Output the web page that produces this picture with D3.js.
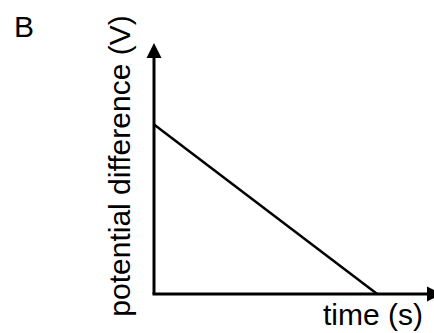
<!DOCTYPE html>
<html>
<head>
<meta charset="utf-8">
<script src="https://cdn.jsdelivr.net/npm/d3@7"></script>
<style>
  body { margin: 0; background: #fff; }
  svg { display: block; font-family: "Liberation Sans", Arial, sans-serif; }
</style>
</head>
<body>
<svg id="chart" width="434" height="333"></svg>
<script>
(function () {
    'use strict';

    // sketch graph: p.d. falls linearly to zero
    var timeValues = [0, 7.75];
    var voltageValues = [6.75, 0];
    var axisMax = [10, 10];
    var panelLabel = "B";
    var xLabel = "time (s)";
    var yLabel = "potential difference (V)";

    var svg = d3.select("#chart");
    var x = d3.scaleLinear().domain([0, axisMax[0]]).range([154, 442]);
    var y = d3.scaleLinear().domain([0, axisMax[1]]).range([294, 43]);

    var pts = timeValues.map(function (t, i) { return [t, voltageValues[i]]; });

    // axes
    svg.append("line")
        .attr("x1", x(0)).attr("y1", y(0))
        .attr("x2", x(0)).attr("y2", y(axisMax[1]) + 10)
        .style("stroke", "#000").style("stroke-width", "3px");
    svg.append("line")
        .attr("x1", x(0) - 1.5).attr("y1", y(0))
        .attr("x2", x(axisMax[0]) - 10).attr("y2", y(0))
        .style("stroke", "#000").style("stroke-width", "3px");

    // arrow heads
    svg.append("path")
        .attr("d", "M" + x(0) + "," + y(axisMax[1]) +
            "L" + (x(0) - 7.5) + "," + (y(axisMax[1]) + 15) +
            "L" + (x(0) + 7.5) + "," + (y(axisMax[1]) + 15) + "Z")
        .style("fill", "#000");
    svg.append("path")
        .attr("d", "M" + x(axisMax[0]) + "," + y(0) +
            "L" + (x(axisMax[0]) - 15) + "," + (y(0) - 7.5) +
            "L" + (x(axisMax[0]) - 15) + "," + (y(0) + 7.5) + "Z")
        .style("fill", "#000");

    // data line
    svg.append("path")
        .datum(pts)
        .attr("d", d3.line().x(function (d) { return x(d[0]); }).y(function (d) { return y(d[1]); }))
        .style("fill", "none")
        .style("stroke", "#000")
        .style("stroke-width", "2.5px");

    // labels
    svg.append("text")
        .attr("x", 14).attr("y", 37)
        .style("font-size", "30px")
        .text(panelLabel);
    svg.append("text")
        .attr("x", 323).attr("y", 325)
        .style("font-size", "30px")
        .text(xLabel);
    svg.append("text")
        .attr("transform", "translate(130,166) rotate(-90)")
        .attr("text-anchor", "middle")
        .style("font-size", "30px")
        .text(yLabel);
}());
</script>
</body>
</html>
